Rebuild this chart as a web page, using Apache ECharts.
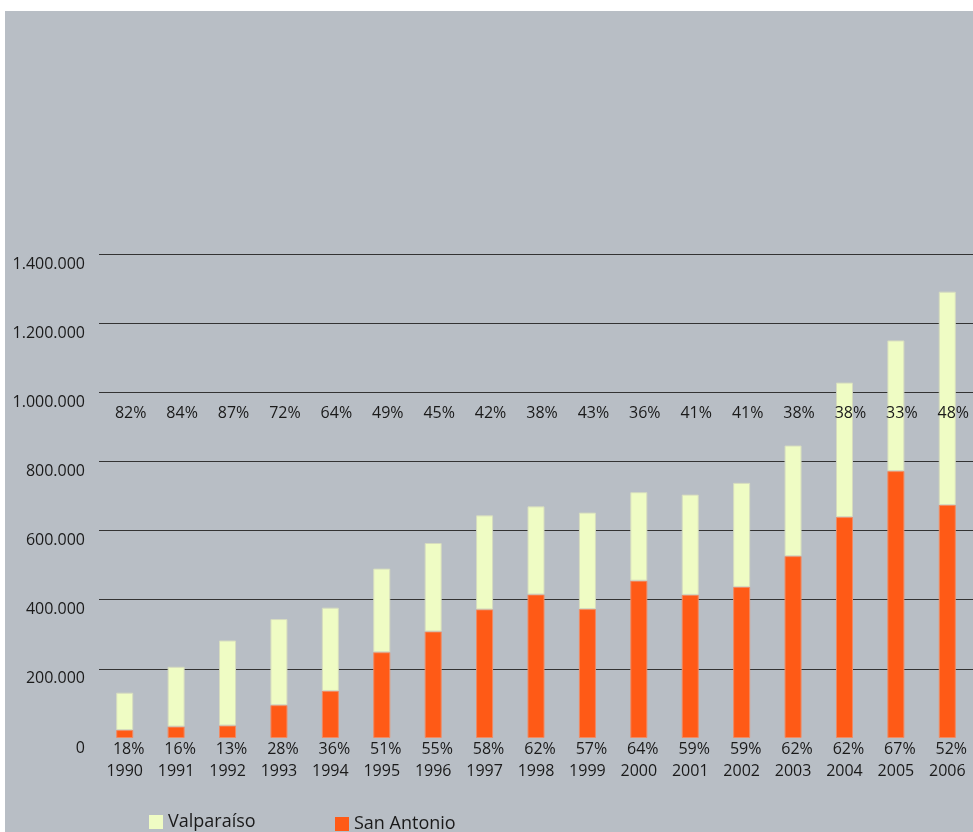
<!DOCTYPE html>
<html>
<head>
<meta charset="utf-8">
<script src="https://cdn.jsdelivr.net/npm/echarts@6/dist/echarts.min.js"></script>
<style>
  body { margin: 0; background: #fff; }
  #chart { position: absolute; left: 5px; top: 11px; width: 968px; height: 821px; }
</style>
</head>
<body>
<div id="chart"></div>
<script>
// years on the x axis
const years = ['1990', '1991', '1992', '1993', '1994', '1995', '1996', '1997', '1998',
  '1999', '2000', '2001', '2002', '2003', '2004', '2005', '2006'];
// tonnes per port
const sanAntonio = [23000, 33000, 36000, 95000, 136000, 248000, 308000, 372000, 415000,
  373000, 455000, 414000, 437000, 526000, 639000, 772000, 674000];
const valparaiso = [108000, 173000, 246000, 249000, 241000, 242000, 256000, 272000, 255000,
  279000, 256000, 290000, 301000, 320000, 389000, 378000, 617000];
// share labels as printed
const valpoPct = [82, 84, 87, 72, 64, 49, 45, 42, 38, 43, 36, 41, 41, 38, 38, 33, 48];
const sanPct = [18, 16, 13, 28, 36, 51, 55, 58, 62, 57, 64, 59, 59, 62, 62, 67, 52];

const font = '"Open Sans", "Noto Sans", sans-serif';

let chart = echarts.init(document.getElementById('chart'));

const option = {
  backgroundColor: '#b8bec5',
  animation: false,
  textStyle: { fontFamily: font },
  grid: { left: 94, right: -1, top: 243, bottom: 94 },
  legend: [
    {
      data: ['Valparaíso'],
      left: 139, top: 797,
      icon: 'rect',
      itemWidth: 14, itemHeight: 14, itemGap: 10,
      itemStyle: { borderWidth: 0 },
      textStyle: { fontSize: 18, color: '#1a1a1a', fontFamily: font }
    },
    {
      data: ['San Antonio'],
      left: 325, top: 799,
      icon: 'rect',
      itemWidth: 14, itemHeight: 14, itemGap: 10,
      itemStyle: { borderWidth: 0 },
      textStyle: { fontSize: 18, color: '#1a1a1a', fontFamily: font }
    }
  ],
  xAxis: [
    {
      type: 'category',
      data: years,
      axisLine: { show: false },
      axisTick: { show: false },
      axisLabel: {
        margin: 0,
        interval: 0,
        hideOverlap: false,
        formatter: function (value, i) {
          return '{p|' + sanPct[i] + '%}\n{y|' + value + '}';
        },
        rich: {
          p: { fontSize: 16, lineHeight: 22, color: '#1a1a1a', fontFamily: font, padding: [0, 0, 0, 8] },
          y: { fontSize: 16, lineHeight: 22, color: '#1a1a1a', fontFamily: font }
        }
      }
    },
    {
      type: 'category',
      data: years,
      position: 'top',
      z: 10,
      axisLine: { show: false },
      axisTick: { show: false },
      axisLabel: {
        inside: true,
        interval: 0,
        hideOverlap: false,
        margin: 151,
        fontSize: 16,
        color: '#1a1a1a',
        padding: [0, 0, 0, 12],
        formatter: function (value, i) {
          return valpoPct[i] + '%';
        }
      }
    }
  ],
  yAxis: {
    type: 'value',
    min: 0,
    max: 1400000,
    interval: 200000,
    axisLine: { show: false },
    axisTick: { show: false },
    axisLabel: {
      margin: 14,
      fontSize: 16,
      color: '#1a1a1a',
      verticalAlign: 'top',
      padding: [2, 0, 0, 0],
      formatter: function (v) {
        return v.toString().replace(/\B(?=(\d{3})+(?!\d))/g, '.');
      }
    },
    splitLine: {
      showMinLine: false,
      lineStyle: { color: '#333', width: 1 }
    }
  },
  series: [
    {
      name: 'San Antonio',
      type: 'bar',
      stack: 'total',
      barWidth: 17,
      data: sanAntonio,
      itemStyle: { color: '#ff5a16', borderColor: '#f08a62', borderWidth: 1 }
    },
    {
      name: 'Valparaíso',
      type: 'bar',
      stack: 'total',
      barWidth: 17,
      data: valparaiso,
      itemStyle: { color: '#effcc4', borderColor: '#d6dcbf', borderWidth: 1 }
    }
  ]
};

chart.setOption(option);
</script>
</body>
</html>
